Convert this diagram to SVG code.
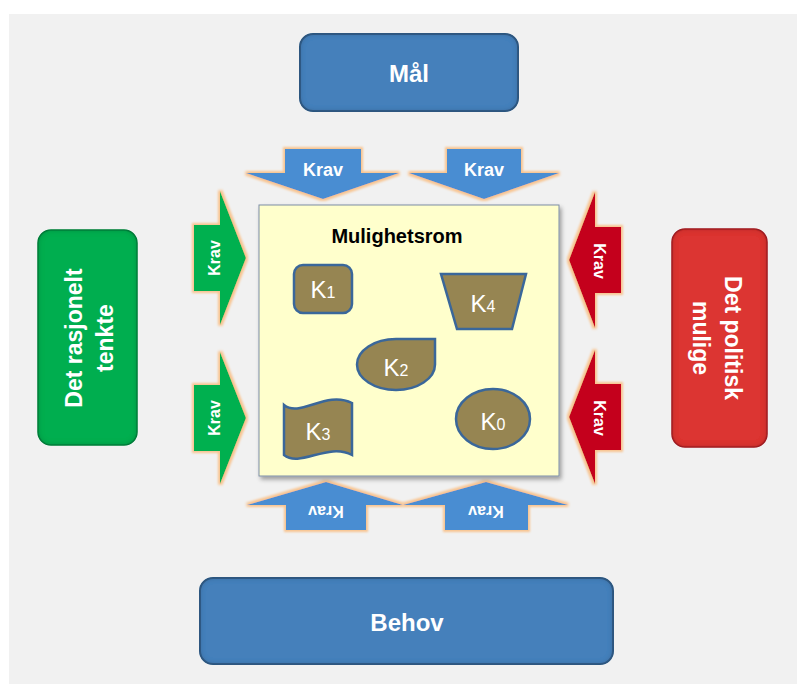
<svg xmlns="http://www.w3.org/2000/svg" width="797" height="684" viewBox="0 0 797 684">
<defs>
<style>
.lbl{font-family:"Liberation Sans",Arial,sans-serif;font-weight:bold;fill:#ffffff;text-anchor:middle}
.krav{font-size:18px}
.side{font-size:16px}
.big{font-size:24px}
.vert{font-size:23px}
.k{font-family:"Liberation Sans",Arial,sans-serif;fill:#ffffff;text-anchor:middle;font-size:24px}
.k tspan{font-size:16px}
.shape{fill:#968552;stroke:#3a679a;stroke-width:2.5}
.blueArrow{fill:#4a8dd2}
.greenArrow{fill:#00b050}
.redArrow{fill:#c4001a}
</style>
<filter id="glow" x="-20%" y="-20%" width="140%" height="140%">
<feMorphology in="SourceAlpha" operator="dilate" radius="2.2" result="d"/>
<feGaussianBlur in="d" stdDeviation="1.2" result="b"/>
<feFlood flood-color="#f8c490"/>
<feComposite in2="b" operator="in" result="g"/>
<feMerge><feMergeNode in="g"/><feMergeNode in="SourceGraphic"/></feMerge>
</filter>
<filter id="shadow" x="-10%" y="-10%" width="125%" height="125%">
<feGaussianBlur in="SourceAlpha" stdDeviation="2"/>
<feOffset dx="2" dy="3" result="o"/>
<feFlood flood-color="#000" flood-opacity="0.35"/>
<feComposite in2="o" operator="in" result="s"/>
<feMerge><feMergeNode in="s"/><feMergeNode in="SourceGraphic"/></feMerge>
</filter>
<filter id="inner" x="-5%" y="-5%" width="110%" height="110%">
<feGaussianBlur in="SourceAlpha" stdDeviation="3" result="b"/>
<feComposite in="SourceAlpha" in2="b" operator="arithmetic" k2="1" k3="-1" result="edge"/>
<feFlood flood-color="#000" flood-opacity="0.5"/>
<feComposite in2="edge" operator="in" result="e"/>
<feMerge><feMergeNode in="SourceGraphic"/><feMergeNode in="e"/></feMerge>
</filter>
</defs>

<rect x="9" y="14" width="788" height="670" fill="#f1f1f1"/>

<g id="connectors">
<g id="krav-top-1">
<polygon class="blueArrow" filter="url(#glow)" points="285,149 361,149 361,173 399,173 323,199 246,173 285,173"/>
<text class="lbl krav" x="323" y="176">Krav</text>
</g>
<g id="krav-top-2">
<polygon class="blueArrow" filter="url(#glow)" points="447,149 521,149 521,173 559,173 484,199 409,173 447,173"/>
<text class="lbl krav" x="484" y="176">Krav</text>
</g>
<g id="krav-left-1">
<polygon class="greenArrow" filter="url(#glow)" points="194,225 220,225 220,191 246,258 220,325 220,291 194,291"/>
<text class="lbl side" transform="translate(214,258) rotate(-90)" dy="0.36em">Krav</text>
</g>
<g id="krav-left-2">
<polygon class="greenArrow" filter="url(#glow)" points="194,385 220,385 220,352 246,418 220,484 220,451 194,451"/>
<text class="lbl side" transform="translate(214,418) rotate(-90)" dy="0.36em">Krav</text>
</g>
<g id="krav-right-1">
<polygon class="redArrow" filter="url(#glow)" points="621,227 595,227 595,192 569,260 595,328 595,293 621,293"/>
<text class="lbl side" transform="translate(600,261) rotate(90)" dy="0.36em">Krav</text>
</g>
<g id="krav-right-2">
<polygon class="redArrow" filter="url(#glow)" points="621,384 595,384 595,350 569,417 595,484 595,450 621,450"/>
<text class="lbl side" transform="translate(600,418) rotate(90)" dy="0.36em">Krav</text>
</g>
<g id="krav-bottom-1">
<polygon class="blueArrow" filter="url(#glow)" points="286,530 366,530 366,505 403,505 326,482 247,505 286,505"/>
<text class="lbl side" transform="translate(326,512) rotate(180)" dy="0.36em">Krav</text>
</g>
<g id="krav-bottom-2">
<polygon class="blueArrow" filter="url(#glow)" points="445,530 528,530 528,505 568,505 486,482 403,505 445,505"/>
<text class="lbl side" transform="translate(486,512) rotate(180)" dy="0.36em">Krav</text>
</g>
</g>

<g id="maal">
<rect x="300" y="34" width="218" height="77" rx="13" fill="#4580bb" stroke="#34628f" stroke-width="2" filter="url(#inner)"/>
<text class="lbl big" x="409" y="82">Mål</text>
</g>

<g id="behov">
<rect x="200" y="578" width="413" height="86" rx="13" fill="#4580bb" stroke="#34628f" stroke-width="2" filter="url(#inner)"/>
<text class="lbl big" x="407" y="631">Behov</text>
</g>

<g id="rasjonelt">
<rect x="38" y="230" width="99" height="215" rx="13" fill="#00ae4f" stroke="#068a42" stroke-width="1.5" filter="url(#inner)"/>
<text class="lbl vert" transform="translate(82,338) rotate(-90)"><tspan x="0" y="0">Det rasjonelt</tspan><tspan x="0" y="31">tenkte</tspan></text>
</g>

<g id="politisk">
<rect x="672" y="229" width="95" height="218" rx="13" fill="#dc3530" stroke="#b0242a" stroke-width="1.5" filter="url(#inner)"/>
<text class="lbl vert" transform="translate(725,338) rotate(90)"><tspan x="0" y="0">Det politisk</tspan><tspan x="0" y="32">mulige</tspan></text>
</g>

<g id="mulighetsrom">
<rect x="259" y="205" width="300" height="271" fill="#ffffcc" stroke="#7d8ea6" stroke-width="1" filter="url(#shadow)"/>
<text x="397" y="243" font-family="'Liberation Sans',Arial,sans-serif" font-weight="bold" font-size="20" fill="#000" text-anchor="middle">Mulighetsrom</text>
</g>

<g id="k1">
<rect class="shape" x="294" y="265" width="58" height="48" rx="9"/>
<text class="k" x="323" y="298">K<tspan>1</tspan></text>
</g>
<g id="k4">
<polygon class="shape" points="441,274 526,274 512,329 457,329"/>
<text class="k" x="483" y="312">K<tspan>4</tspan></text>
</g>
<g id="k2">
<path class="shape" d="M396,339 L435,339 L435,364.5 A39,25.5 0 1 1 396,339 Z"/>
<text class="k" x="396" y="376">K<tspan>2</tspan></text>
</g>
<g id="k3">
<path class="shape" d="M284,405 C300,418 326,390 352,403 L352,455 C328,442 300,468 284,455 Z"/>
<text class="k" x="318" y="440">K<tspan>3</tspan></text>
</g>
<g id="k0">
<ellipse class="shape" cx="493" cy="419" rx="37" ry="30"/>
<text class="k" x="493" y="430">K<tspan>0</tspan></text>
</g>
</svg>
